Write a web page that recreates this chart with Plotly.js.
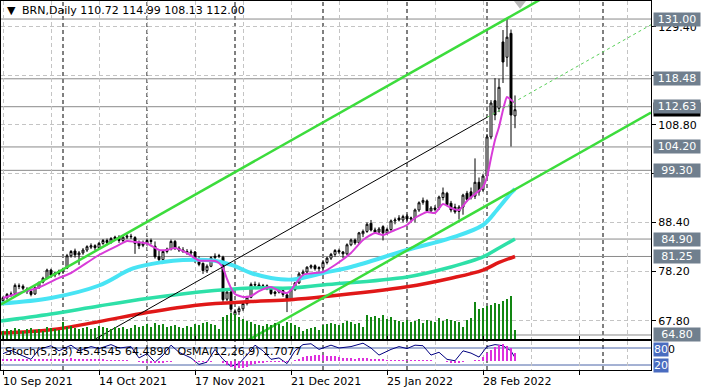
<!DOCTYPE html>
<html><head><meta charset="utf-8">
<script src="https://cdn.plot.ly/plotly-3.0.1.min.js"></script>
<style>html,body{margin:0;padding:0;background:#fff}#chart{width:708px;height:390px}</style>
</head><body><div id="chart"></div>
<script>
// ---- data (bar index 0 = 10 Sep 2021) ----
const open = [
72.0,72.6,73.3,73.5,75.1,75.0,74.4,73.9,73.4,74.7,
75.9,76.7,78.4,77.4,77.7,78.0,78.8,81.4,82.4,81.6,
82.0,82.6,83.2,83.5,83.1,84.0,84.6,84.2,85.0,85.3,
84.6,85.3,85.5,85.2,84.2,83.6,84.0,84.6,83.4,81.2,
80.6,82.3,82.8,84.4,83.0,82.6,82.3,82.0,82.2,80.4,
79.8,78.3,79.2,81.0,81.3,81.1,72.3,73.8,69.0,69.7,
70.3,71.4,72.7,75.4,75.3,74.9,75.1,74.5,73.5,73.8,
74.1,73.2,72.4,74.3,75.7,77.6,78.0,79.0,79.3,78.7,
78.9,80.0,80.9,81.7,82.5,82.2,81.8,83.7,84.7,84.1,
86.0,86.5,88.2,86.8,86.4,87.5,86.2,86.9,88.7,89.3,
88.9,89.7,89.1,89.3,91.0,92.6,92.9,90.8,91.4,91.4,
93.6,94.5,92.4,91.6,90.7,91.6,94.5,94.8,93.9,96.8,
95.2,98.1,106.3,113.9,112.3,126.2,123.0,128.0,110.72];
const high = [
72.9,73.6,73.9,75.6,75.6,75.4,74.8,74.2,75.0,76.0,
77.0,78.7,78.7,78.1,78.5,78.9,81.8,82.6,82.9,82.4,
83.0,83.6,84.0,83.8,84.3,84.9,85.0,85.3,85.6,85.7,
85.6,85.9,86.0,85.5,84.6,84.6,85.0,85.0,84.4,82.4,
82.6,83.1,84.8,84.7,83.4,83.2,82.8,82.7,82.4,81.3,
80.0,79.6,81.3,81.9,81.8,81.4,74.6,74.2,70.2,70.8,
71.8,73.0,75.8,76.0,75.8,75.5,75.4,74.8,74.1,74.6,
74.4,73.5,74.6,75.9,78.0,78.5,79.2,79.6,79.6,79.2,
80.5,81.2,82.0,82.8,82.9,82.4,84.0,85.0,85.0,86.4,
86.9,88.4,88.9,87.3,87.4,87.8,87.3,89.0,89.4,89.9,
90.0,90.1,89.6,91.3,92.8,93.6,93.2,91.8,92.0,94.0,
95.7,94.8,92.9,92.3,92.0,94.4,95.0,95.7,101.8,97.8,
98.6,106.9,114.0,118.6,118.5,128.7,131.0,128.8,114.99];
const low = [
71.6,72.2,72.8,73.2,74.4,74.2,73.4,72.9,73.2,74.5,
75.6,76.5,76.8,76.9,77.3,77.6,78.6,81.0,81.0,79.5,
81.6,82.2,82.8,82.6,82.9,83.7,83.6,83.9,84.6,84.1,
84.2,84.9,84.9,81.8,82.8,83.2,83.5,83.8,80.8,79.8,
80.3,81.9,82.5,82.6,82.2,82.0,81.6,81.5,79.9,79.2,
77.6,77.8,79.0,80.5,80.9,71.5,71.9,69.5,68.6,69.0,
69.8,71.0,72.5,74.8,74.6,74.4,74.2,73.2,72.9,73.5,
72.8,69.6,72.1,74.0,75.5,77.2,77.8,78.6,78.3,78.1,
78.5,79.6,80.5,81.2,81.8,80.9,81.5,83.4,83.7,83.9,
85.3,86.2,86.5,86.0,85.8,84.6,85.8,86.6,88.0,88.6,
88.4,88.7,88.3,88.4,90.6,92.1,90.5,90.4,90.7,91.0,
93.0,91.8,90.5,90.2,89.0,90.0,92.8,93.2,93.3,94.0,
94.8,97.6,105.8,109.8,111.5,117.6,121.0,104.3,108.13];
const close = [
72.6,73.3,73.4,75.2,75.0,74.6,73.9,73.3,74.7,75.8,
76.7,78.4,77.3,77.8,78.2,78.6,81.4,82.3,81.6,82.0,
82.6,83.3,83.5,83.1,84.0,84.6,84.2,85.0,85.3,84.6,
85.3,85.5,85.4,84.0,83.5,84.0,84.6,84.4,81.2,80.6,
82.3,82.8,84.4,83.0,82.6,82.3,82.0,82.2,80.3,79.6,
78.3,79.2,81.0,81.3,81.4,72.2,73.8,70.2,69.7,70.3,
71.4,72.7,75.4,75.3,74.9,75.1,74.5,73.5,73.8,74.2,
73.3,72.4,74.3,75.7,77.6,78.0,79.0,79.3,78.7,78.9,
80.0,80.9,81.7,82.5,82.2,81.8,83.7,84.7,84.1,86.2,
86.5,88.0,86.8,86.3,87.0,86.2,86.9,88.7,88.9,88.9,
89.6,89.1,89.3,91.0,92.5,93.0,90.8,91.4,91.1,93.7,
94.6,92.1,91.0,90.6,91.6,94.1,93.2,93.6,96.8,94.8,
98.1,106.3,113.4,110.9,116.7,122.0,127.2,110.9,112.00];
// tick volume, thousands
const volume = [
8,10,9,11,10,8,10,11,9,10,
8,12,11,10,9,17,12,13,11,10,
11,12,10,11,13,12,11,10,12,11,
12,10,11,14,12,13,15,12,16,14,
15,12,13,14,12,11,13,12,15,14,
16,17,15,14,10,22,24,26,25,22,
20,18,17,15,14,13,15,14,16,15,
13,17,16,14,12,8,10,11,12,9,
14,15,16,15,14,16,18,17,15,16,
12,24,22,23,21,24,20,22,19,18,
17,19,17,18,20,16,19,18,17,21,
18,20,19,18,17,12,19,21,37,30,
31,33,34,36,35,38,40,43,9];
// moving averages read at sample bars
const maFastX = [0,4,9,14,17,24,29,31,33,36,39,41,43,46,49,53,54,55,56,57,58,60,62,64,67,69,71,72,75,80,83,87,90,93,95,98,101,103,106,108,110,112,114,116,118,120,121,122,123,124,125,126,127,128];
const maFastY = [72.56,73.6,74.76,76.75,77.79,81.56,83.66,84.5,84.29,83.97,82.61,82.61,83.03,81.98,80.41,80.31,79.89,78.84,76.54,74.65,73.39,72.76,72.97,74.0,74.86,74.02,73.6,74.23,77.37,78.0,79.47,81.98,84.71,86.17,85.75,86.8,87.85,89.32,90.58,90.36,92.25,91.41,90.99,92.88,94.34,95.81,97.91,101.89,105.66,108.38,111.94,114.67,114.04,113.41];
const maMidX = [-0.5,12,24,32.5,40,45,52.5,57.5,62,67,72.5,80,87,101,112,120,123.5,127,128];
const maMidY = [71.4,72.56,75.17,78.74,80.1,80.52,80.41,79.37,77.79,76.75,76.43,77.79,79.05,82.61,85.13,87.85,91.0,94.55,95.4];
const maSlowX = [-0.5,12,24,36,49,62,72,80,101,112,120,124,128];
const maSlowY = [67.74,69.2,70.88,72.45,73.81,74.65,74.65,75.28,76.96,79.05,81.15,83.03,84.9];
const maLongX = [-0.5,12,24,36,49,62,72,80,101,112,120,124,128];
const maLongY = [65.2,65.9,67.6,69.5,71.1,71.8,72.2,72.8,74.9,76.7,78.4,80.0,81.25];
// price channel (end points)
const chanUpX = [-0.5,135], chanUpY = [71.2,135.4];
const chanLoX = [60,162], chanLoY = [63.1,111.4];
const chanMidX = [20,121], chanMidY = [62.5,110.4];
const chanExtX = [121,162], chanExtY = [110.4,129.8];
const arrowX = [129.25], arrowY = [134.4];
// levels and axis labels
const levels = [131.00,118.48,112.63,104.20,99.30,84.90,81.25,64.80];
const lastPrice = 112.00;
const priceGrid = [67.8,78.2,88.4,98.6,108.8,119.1,129.4];
const priceGridText = ['67.80','78.20','88.40','','108.80','119.10','129.40'];
const dateTicks = [0,24,48,72,96,120];
const dateLabels = ['10 Sep 2021','14 Oct 2021','17 Nov 2021','21 Dec 2021','25 Jan 2022','28 Feb 2022'];
const monthStarts = [15,36,58,80,101,121,150];
// sub window
const stochX = [0,2,4,7,9,12,14,17,19,22,24,27,29,32,34,36,38,40,42,44,47,49,51,53,55,57,59,61,63,65,67,69,71,73,75,77,79,82,84,87,90,92,94,97,99,101,103,105,107,109,111,113,115,117,119,121,123,125,127,128];
const stochV = [60,72,58,40,75,88,70,90,70,85,78,92,80,85,45,60,30,55,90,65,45,22,30,75,40,15,25,55,90,70,40,45,25,70,92,95,75,90,80,85,97,80,55,75,85,78,90,88,55,65,40,35,70,62,48,85,92,88,70,45.45];
const osma = [
0.3,0.3,0.3,0.35,0.35,0.3,0.25,0.2,0.25,0.3,
0.35,0.4,0.35,0.3,0.3,0.3,0.4,0.45,0.4,0.35,
0.3,0.3,0.3,0.25,0.25,0.25,0.2,0.2,0.2,0.15,
0.1,0.05,-0.05,-0.2,-0.35,-0.45,-0.5,-0.55,-0.6,-0.6,
-0.5,-0.4,-0.3,-0.2,-0.15,-0.15,-0.15,-0.2,-0.25,-0.35,
-0.4,-0.35,-0.25,-0.15,-0.1,-0.6,-1.0,-1.4,-1.7,-1.7,
-1.6,-1.4,-1.1,-0.8,-0.6,-0.45,-0.35,-0.3,-0.3,-0.25,
-0.3,-0.35,-0.2,0.1,0.4,0.7,0.9,1.1,1.2,1.2,
1.2,1.1,1.0,0.9,0.7,0.55,0.5,0.45,0.4,0.45,
0.5,0.5,0.4,0.35,0.3,0.25,0.2,0.2,0.2,0.2,
0.15,0.1,0.1,0.15,0.2,0.2,0.15,0.05,0,-0.1,
-0.2,-0.3,-0.45,-0.55,-0.5,-0.35,-0.2,-0.1,0.1,0.2,
0.8,1.6,2.3,3.0,3.4,3.6,3.2,2.8,1.7077];
const stochLevels = [80,20];

const barIdx = close.map((_, i) => i);
const F = 'DejaVu Sans';

const traces = [
  {type:'candlestick', x:barIdx, open:open, high:high, low:low, close:close, xaxis:'x', yaxis:'y',
   increasing:{line:{color:'#000',width:1}, fillcolor:'#ffffff'},
   decreasing:{line:{color:'#000',width:1}, fillcolor:'#000000'},
   whiskerwidth:0, hoverinfo:'skip'},
  {type:'scatter', mode:'lines', x:maLongX, y:maLongY, line:{color:'#e01818', width:3.5, shape:'spline'}, hoverinfo:'skip'},
  {type:'scatter', mode:'lines', x:maSlowX, y:maSlowY, line:{color:'#2ee0a8', width:3.5, shape:'spline'}, hoverinfo:'skip'},
  {type:'scatter', mode:'lines', x:maMidX, y:maMidY, line:{color:'#48e4f4', width:4, shape:'spline'}, hoverinfo:'skip'},
  {type:'scatter', mode:'lines', x:maFastX, y:maFastY, line:{color:'#d83cd8', width:2, shape:'spline', smoothing:0.6}, hoverinfo:'skip'},
  {type:'scatter', mode:'lines', x:chanUpX, y:chanUpY, line:{color:'#3cdc3c', width:2.5}, hoverinfo:'skip'},
  {type:'scatter', mode:'lines', x:chanLoX, y:chanLoY, line:{color:'#3cdc3c', width:2.5}, hoverinfo:'skip'},
  {type:'scatter', mode:'lines', x:chanMidX, y:chanMidY, line:{color:'#000', width:1}, hoverinfo:'skip'},
  {type:'scatter', mode:'lines', x:chanExtX, y:chanExtY, line:{color:'#5ad05a', width:1, dash:'3px,3px'}, hoverinfo:'skip'},
  {type:'scatter', mode:'markers', x:arrowX, y:arrowY, marker:{symbol:'triangle-down', size:12, color:'#b8b8b8'}, cliponaxis:true, hoverinfo:'skip'},
  {type:'bar', x:barIdx, y:volume, width:0.45, marker:{color:'#128612', line:{width:0}}, xaxis:'x', yaxis:'y3', hoverinfo:'skip'},
  {type:'bar', x:barIdx, y:osma, width:0.7, marker:{color:'#dd30dd', line:{width:0}}, xaxis:'x', yaxis:'y4', hoverinfo:'skip'},
  {type:'scatter', mode:'lines', x:stochX, y:stochV, xaxis:'x', yaxis:'y2', line:{color:'#000080', width:1}, hoverinfo:'skip'}
];

const shapes = [];
monthStarts.forEach(m => shapes.push({type:'line', xref:'x', yref:'paper', x0:m, x1:m, y0:0, y1:1, layer:'below', line:{color:'#000', width:1, dash:'4px,3px'}}));
levels.forEach(v => shapes.push({type:'line', xref:'paper', yref:'y', x0:0, x1:1, y0:v, y1:v, layer:'below', line:{color:'#8a8a8a', width:1}}));
stochLevels.forEach(v => shapes.push({type:'line', xref:'paper', yref:'y2', x0:0, x1:1, y0:v, y1:v, layer:'below', line:{color:'#4a64a8', width:1}}));

const ann = [];
ann.push({xref:'paper', yref:'paper', x:0.006, y:0.973, xanchor:'left', yanchor:'middle', text:'▼', showarrow:false, font:{family:F, size:11, color:'#000'}});
ann.push({xref:'paper', yref:'paper', x:0.029, y:0.973, xanchor:'left', yanchor:'middle', text:'BRN,Daily 110.72 114.99 108.13 112.00', showarrow:false, font:{family:F, size:11, color:'#000'}});
dateTicks.forEach((t, k) => ann.push({xref:'x', yref:'paper', x:t, y:-0.0325, xanchor:'left', yanchor:'middle', xshift:-1, text:dateLabels[k], showarrow:false, borderpad:0, font:{family:F, size:11, color:'#000'}}));
ann.push({xref:'paper', yref:'y', x:1, y:lastPrice, xanchor:'left', yanchor:'middle', xshift:2, text:lastPrice.toFixed(2), showarrow:false, bgcolor:'#000', width:46, height:13, borderpad:0, font:{family:F, size:11, color:'#fff'}});
levels.forEach(v => ann.push({xref:'paper', yref:'y', x:1, y:v, xanchor:'left', yanchor:'middle', xshift:2, text:v.toFixed(2), showarrow:false, bgcolor:'#707f8e', width:46, height:13, borderpad:0, font:{family:F, size:11, color:'#fff'}}));
ann.push({xref:'paper', yref:'y2', x:1, y:80, xanchor:'left', yanchor:'middle', xshift:2, yshift:-1.5, text:'100', showarrow:false, borderpad:0, font:{family:F, size:11, color:'#000'}});
ann.push({xref:'paper', yref:'y2', x:1, y:80, xanchor:'left', yanchor:'middle', xshift:2, yshift:-1.5, text:'80', showarrow:false, bgcolor:'#4a6cc0', borderpad:0, font:{family:F, size:11, color:'#fff'}});
ann.push({xref:'paper', yref:'y2', x:1, y:20, xanchor:'left', yanchor:'middle', xshift:2, text:'20', showarrow:false, bgcolor:'#4a6cc0', borderpad:0, font:{family:F, size:11, color:'#fff'}});
ann.push({xref:'paper', yref:'paper', x:0.003, y:0.0488, xanchor:'left', yanchor:'middle', text:'Stoch(5,3,3) 45.4545 64.4890  OsMA(12,26,9) 1.7077', showarrow:false, font:{family:F, size:11, color:'#000'}});

const layout = {
  width:708, height:390, margin:{l:1, r:57, t:1, b:20},
  paper_bgcolor:'#fff', plot_bgcolor:'#fff', showlegend:false, hovermode:false,
  font:{family:F, size:11, color:'#000'},
  bargap:0,
  xaxis:{range:[-0.5,162], anchor:'y2', showline:true, mirror:'all', linecolor:'#000', linewidth:1,
         tickmode:'linear', tick0:0, dtick:24, ticks:'outside', ticklen:4, tickcolor:'#000', showticklabels:false,
         showgrid:true, gridcolor:'#c4c4c4', griddash:'4px,3px', zeroline:false,
         minor:{tick0:0, dtick:12, showgrid:true, gridcolor:'#c4c4c4', griddash:'4px,3px', ticks:''},
         rangeslider:{visible:false}, fixedrange:true},
  yaxis:{domain:[0.08401,1], range:[63.96,134.78], side:'right', anchor:'x',
         tickmode:'array', tickvals:priceGrid, ticktext:priceGridText, ticks:'outside', ticklen:4, tickcolor:'#000',
         showgrid:true, gridcolor:'#c4c4c4', griddash:'4px,3px', showline:true, mirror:true, linecolor:'#000',
         zeroline:false, tickfont:{family:F, size:11, color:'#000'}},
  yaxis3:{overlaying:'y', range:[0,338], visible:false, showgrid:false, zeroline:false},
  yaxis2:{domain:[0,0.07859], range:[2.35,104.7], anchor:'x', showline:true, mirror:true, linecolor:'#000',
          showgrid:false, zeroline:false, showticklabels:false, ticks:''},
  yaxis4:{overlaying:'y2', range:[-2.11,4.33], visible:false, showgrid:false, zeroline:false},
  shapes:shapes, annotations:ann
};

Plotly.newPlot('chart', traces, layout, {staticPlot:true, displayModeBar:false});
</script>
</body></html>
